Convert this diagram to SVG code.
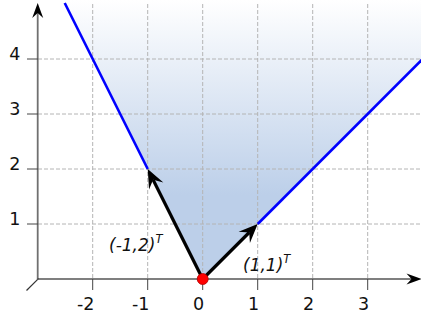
<svg xmlns="http://www.w3.org/2000/svg" width="421" height="320" viewBox="0 0 421 320">
<style>
.grid{stroke:#b4b4b4;stroke-width:1;stroke-dasharray:4,2;fill:none}
.tick{stroke:#444;stroke-width:1}
.lbl{font-family:"DejaVu Sans",sans-serif;font-size:17.5px;fill:#111}
.vlbl{font-family:"DejaVu Sans",sans-serif;font-size:17px;font-style:italic;fill:#111}
.bound{stroke:#0000ff;stroke-width:2.6;fill:none}
.vec{stroke:#000;stroke-width:3.2;fill:none}
</style>
<defs>
<linearGradient id="fillg" gradientUnits="userSpaceOnUse" x1="0" y1="0" x2="0" y2="195">
<stop offset="0" stop-color="#ffffff"/>
<stop offset="1" stop-color="#bccfe9"/>
</linearGradient>
<path id="head" d="M0,0 L-19,-8 L-12,0 L-19,8 Z"/>
<path id="axhead" d="M0,0 L-15,-5.5 L-10,0 L-15,5.5 Z"/>
</defs>
<g id="cone">
<polygon points="202.7,279 63.2,0 421,0 421,60.7" fill="url(#fillg)"/>
</g>
<g id="grid">
<path class="grid" d="M92.7,4V279M147.7,4V279M202.7,4V279M257.7,4V279M312.7,4V279M367.7,4V279"/>
<path class="grid" d="M38,59H421M38,114H421M38,169H421M38,224H421"/>
</g>
<g id="axes">
<line x1="37.7" y1="279.5" x2="37.7" y2="12" stroke="#707070" stroke-width="1.8"/>
<use href="#axhead" transform="translate(37.7,3) rotate(-90)" fill="#000"/>
<line x1="37.7" y1="279" x2="412" y2="279" stroke="#000" stroke-width="1.2"/>
<use href="#axhead" transform="translate(421.5,279)" fill="#000"/>
<line x1="26.5" y1="290.5" x2="37.7" y2="279.3" stroke="#333" stroke-width="1.2"/>
<path class="tick" d="M92.7,279V290M147.7,279V290M202.7,279V290M257.7,279V290M312.7,279V290M367.7,279V290"/>
<path class="tick" stroke="#000" d="M27,59H38M27,114H38M27,169H38M27,224H38"/>
<text class="lbl" text-anchor="end" x="20.5" y="60">4</text>
<text class="lbl" text-anchor="end" x="20.5" y="115">3</text>
<text class="lbl" text-anchor="end" x="20.5" y="170">2</text>
<text class="lbl" text-anchor="end" x="20.5" y="225">1</text>
<text class="lbl" text-anchor="end" x="94.5" y="310">-2</text>
<text class="lbl" text-anchor="end" x="149.5" y="310">-1</text>
<text class="lbl" text-anchor="end" x="204.2" y="310">0</text>
<text class="lbl" text-anchor="end" x="259.2" y="310">1</text>
<text class="lbl" text-anchor="end" x="314.2" y="310">2</text>
<text class="lbl" text-anchor="end" x="369.2" y="310">3</text>
</g>
<g id="connectors">
<line class="bound" x1="147.7" y1="169" x2="64.7" y2="3"/>
<line class="bound" x1="257.7" y1="224" x2="424" y2="57.7"/>
<line class="vec" x1="202.7" y1="279" x2="153.1" y2="179.7"/>
<use href="#head" transform="translate(147.7,169) rotate(-116.57)" fill="#000"/>
<line class="vec" x1="202.7" y1="279" x2="249.2" y2="232.5"/>
<use href="#head" transform="translate(257.7,224) rotate(-45)" fill="#000"/>
</g>
<g id="origin">
<circle cx="202.7" cy="279" r="5.5" fill="#ff0000" stroke="#b00000" stroke-width="0.8"/>
</g>
<g id="label-v1">
<text class="vlbl" x="109" y="250.5">(-1,2)<tspan font-size="11.5" dy="-8">T</tspan></text>
</g>
<g id="label-v2">
<text class="vlbl" x="243" y="270.5">(1,1)<tspan font-size="11.5" dy="-8">T</tspan></text>
</g>
</svg>
